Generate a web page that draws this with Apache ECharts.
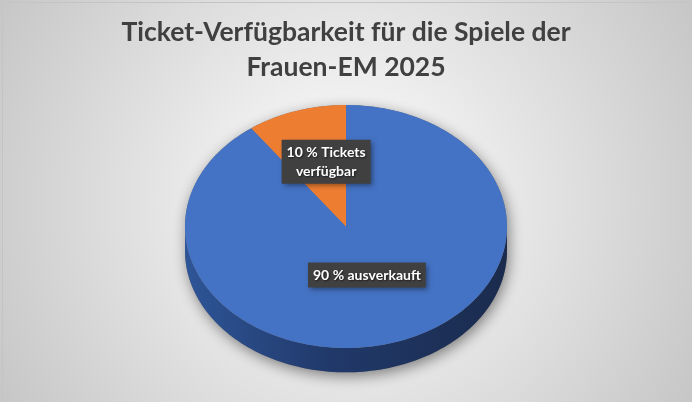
<!DOCTYPE html>
<html>
<head>
<meta charset="utf-8">
<script src="https://cdn.jsdelivr.net/npm/echarts@6/dist/echarts.min.js"></script>
<style>
html,body{margin:0;padding:0;background:#fff;}
#chart{width:692px;height:402px;}
</style>
</head>
<body>
<div id="chart"></div>
<script>
// ---- data ----
const titleText = 'Ticket-Verfügbarkeit für die Spiele der\nFrauen-EM 2025';
const categories = ['ausverkauft', 'Tickets verfügbar'];
const values = [90, 10];
const labelTexts = ['90 % ausverkauft', '10 % Tickets\nverfügbar'];

// ---- style / layout ----
const topColors = ['#4472c4', '#ed7d31'];
const sideColors = [
  ['#2e5597', '#21396a', '#1a2b4d'],
  ['#b35a1f', '#9a4c18', '#7f3e13']
];
const labelRadius = [0.42, 0.56];
const labelShift = [[0, 0], [8, 0]];   // pixel nudges of the label boxes
const depth = 0.2;      // thickness of the pie in y-axis units
const STEPS = 120;

const total = values.reduce((a, b) => a + b, 0);
const starts = [];
let acc = 0;
values.forEach(v => { starts.push(acc / total * 360); acc += v; });

function pt(api, deg, dy) {
  const r = deg * Math.PI / 180;
  return api.coord([Math.sin(r), Math.cos(r) - (dy || 0)]);
}

function renderItem(params, api) {
  const i = params.dataIndex;
  const a0 = starts[i];
  const a1 = a0 + api.value(1) / total * 360;
  const children = [];
  const center = api.coord([0, 0]);

  // silhouette shadow (once)
  if (i === 0) {
    const sil = [];
    for (let k = 0; k <= STEPS; k++) sil.push(pt(api, 270 + 180 * k / STEPS, 0));
    for (let k = 0; k <= STEPS; k++) sil.push(pt(api, 90 + 180 * k / STEPS, depth));
    children.push({
      type: 'polygon', z2: 1,
      shape: { points: sil },
      style: { fill: '#7a7a7a', shadowBlur: 14, shadowColor: 'rgba(0,0,0,0.45)', shadowOffsetX: 2, shadowOffsetY: 4 }
    });
  }

  // side face: visible in front half (90..270 deg)
  const s0 = Math.max(a0, 90), s1 = Math.min(a1, 270);
  if (s1 > s0) {
    const pts = [];
    const n = Math.max(2, Math.round((s1 - s0) / 1.5));
    for (let k = 0; k <= n; k++) pts.push(pt(api, s0 + (s1 - s0) * k / n, 0));
    for (let k = n; k >= 0; k--) pts.push(pt(api, s0 + (s1 - s0) * k / n, depth));
    const left = api.coord([-1, 0])[0], right = api.coord([1, 0])[0];
    children.push({
      type: 'polygon', z2: 5,
      shape: { points: pts },
      style: {
        fill: {
          type: 'linear', x: left, y: 0, x2: right, y2: 0, global: true,
          colorStops: [
            { offset: 0, color: sideColors[i][0] },
            { offset: 0.45, color: sideColors[i][1] },
            { offset: 1, color: sideColors[i][2] }
          ]
        }
      }
    });
  }

  // top face
  const top = [center];
  const n2 = Math.max(2, Math.round((a1 - a0) / 1));
  for (let k = 0; k <= n2; k++) top.push(pt(api, a0 + (a1 - a0) * k / n2, 0));
  children.push({
    type: 'polygon', z2: 10,
    shape: { points: top },
    style: { fill: topColors[i] }
  });

  // label
  const mid = (a0 + a1) / 2 * Math.PI / 180;
  const lr = labelRadius[i];
  const lp = api.coord([lr * Math.sin(mid), lr * Math.cos(mid)]);
  children.push({
    type: 'text', z2: 20,
    x: lp[0] + labelShift[i][0], y: lp[1] + labelShift[i][1],
    style: {
      text: labelTexts[i],
      fill: '#ffffff',
      font: 'bold 14px Lato, "Open Sans", sans-serif',
      align: 'center', verticalAlign: 'middle',
      lineHeight: 19,
      backgroundColor: '#404040',
      padding: [3, 5, 3, 5],
      textShadowColor: 'rgba(0,0,0,0.6)', textShadowBlur: 2, textShadowOffsetX: 1, textShadowOffsetY: 1,
      shadowColor: 'rgba(0,0,0,0.4)', shadowBlur: 5, shadowOffsetX: 2, shadowOffsetY: 2
    }
  });

  return { type: 'group', children: children };
}

const chart = echarts.init(document.getElementById('chart'));
chart.setOption({
  animation: false,
  backgroundColor: {
    type: 'radial', x: 0.5, y: 0.5, r: 1,
    colorStops: [
      { offset: 0, color: '#ffffff' },
      { offset: 1, color: '#c6c6c6' }
    ]
  },
  title: {
    text: titleText,
    left: 'center', top: 10,
    textStyle: {
      fontFamily: 'Lato, "Open Sans", sans-serif',
      fontSize: 26.5, fontWeight: 'bold', color: '#404040', lineHeight: 35
    }
  },
  graphic: [{
    type: 'rect', left: 0, top: 0, silent: true,
    shape: { width: 691, height: 401 },
    style: { fill: 'none', stroke: '#c4c4c4', lineWidth: 1 }
  }],
  grid: { left: 185, top: 105, width: 322, height: 243 },
  xAxis: { type: 'value', min: -1, max: 1, show: false },
  yAxis: { type: 'value', min: -1, max: 1, show: false },
  series: [{
    type: 'custom',
    renderItem: renderItem,
    data: categories.map((c, i) => ({ name: c, value: [i, values[i]] })),
    encode: { x: -1, y: -1 },
    clip: false
  }]
});
</script>
</body>
</html>
